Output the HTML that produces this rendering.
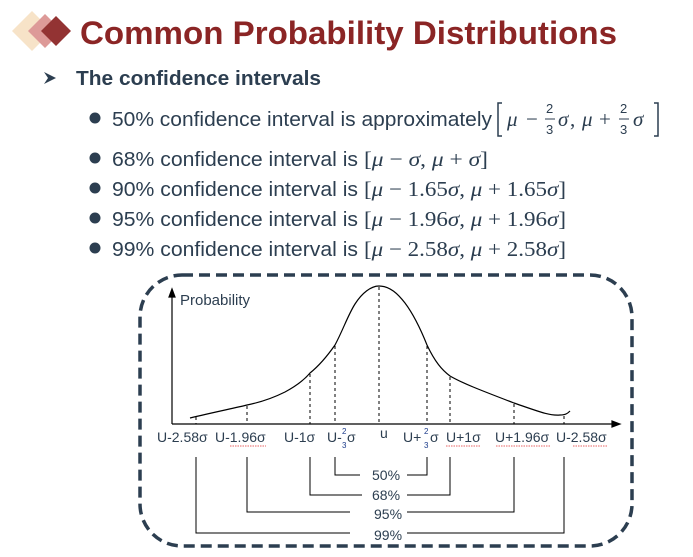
<!DOCTYPE html>
<html><head><meta charset="utf-8"><style>
html,body{margin:0;padding:0;background:#fff;width:693px;height:557px;overflow:hidden}
svg{display:block}
</style></head><body>
<svg width="693" height="557" viewBox="0 0 693 557" xmlns="http://www.w3.org/2000/svg" font-family="'Liberation Sans', 'DejaVu Sans', sans-serif">
<polygon points="32,11 52,31 32,51 12,31" fill="#f7e3c8"/>
<polygon points="45,14 62,31 45,48 28,31" fill="#dd9a98"/>
<polygon points="56,16 71,31 56,46 41,31" fill="#933333"/>
<text x="80" y="44" font-size="32" font-weight="bold" fill="#8b2525" textLength="537" lengthAdjust="spacingAndGlyphs">Common Probability Distributions</text>
<polygon points="44,72 56,78 44,84 48,78" fill="#2c3e50"/>
<text x="76" y="85" font-size="20" font-weight="bold" fill="#2c3e50" textLength="245" lengthAdjust="spacingAndGlyphs">The confidence intervals</text>
<g fill="#2c3e50" font-size="20">
<circle cx="95" cy="118" r="5.5"/><circle cx="95" cy="158" r="5.5"/><circle cx="95" cy="188" r="5.5"/><circle cx="95" cy="218" r="5.5"/><circle cx="95" cy="248" r="5.5"/>
<text x="112" y="126" textLength="380" lengthAdjust="spacingAndGlyphs">50% confidence interval is approximately</text>
<text x="112" y="166" textLength="246" lengthAdjust="spacingAndGlyphs">68% confidence interval is</text>
<text x="112" y="196" textLength="246" lengthAdjust="spacingAndGlyphs">90% confidence interval is</text>
<text x="112" y="226" textLength="246" lengthAdjust="spacingAndGlyphs">95% confidence interval is</text>
<text x="112" y="256" textLength="246" lengthAdjust="spacingAndGlyphs">99% confidence interval is</text>
</g>
<g fill="#2c3e50" font-family="'Liberation Serif', 'DejaVu Serif', serif" font-size="21">
<path d="M502,103 h-4 v33 h4 M654,103 h4 v33 h-4" stroke="#2c3e50" stroke-width="1.5" fill="none"/>
<text x="507" y="126" font-style="italic">μ</text>
<text x="526" y="126">−</text>
<text x="546" y="113" font-size="13" font-family="'Liberation Sans', sans-serif">2</text><text x="546" y="134" font-size="13" font-family="'Liberation Sans', sans-serif">3</text>
<line x1="545" y1="119" x2="555" y2="119" stroke="#2c3e50"/>
<text x="558" y="126" font-style="italic">σ</text><text x="570" y="126">,</text>
<text x="582" y="126" font-style="italic">μ</text>
<text x="599" y="126">+</text>
<text x="620" y="113" font-size="13" font-family="'Liberation Sans', sans-serif">2</text><text x="620" y="134" font-size="13" font-family="'Liberation Sans', sans-serif">3</text>
<line x1="619" y1="119" x2="629" y2="119" stroke="#2c3e50"/>
<text x="633" y="126" font-style="italic">σ</text>
<text x="364" y="166" textLength="124" lengthAdjust="spacingAndGlyphs">[<tspan font-style="italic">μ</tspan> − <tspan font-style="italic">σ</tspan>, <tspan font-style="italic">μ</tspan> + <tspan font-style="italic">σ</tspan>]</text>
<text x="364" y="196" textLength="202" lengthAdjust="spacingAndGlyphs">[<tspan font-style="italic">μ</tspan> − 1.65<tspan font-style="italic">σ</tspan>, <tspan font-style="italic">μ</tspan> + 1.65<tspan font-style="italic">σ</tspan>]</text>
<text x="364" y="226" textLength="202" lengthAdjust="spacingAndGlyphs">[<tspan font-style="italic">μ</tspan> − 1.96<tspan font-style="italic">σ</tspan>, <tspan font-style="italic">μ</tspan> + 1.96<tspan font-style="italic">σ</tspan>]</text>
<text x="364" y="256" textLength="202" lengthAdjust="spacingAndGlyphs">[<tspan font-style="italic">μ</tspan> − 2.58<tspan font-style="italic">σ</tspan>, <tspan font-style="italic">μ</tspan> + 2.58<tspan font-style="italic">σ</tspan>]</text>
</g>
<rect x="140" y="275" width="492" height="271" rx="42" fill="none" stroke="#2c3e50" stroke-width="3.5" stroke-dasharray="11,6"/>
<g stroke="#000" fill="none" stroke-width="1.2">
<line x1="172" y1="424" x2="172" y2="294"/>
<polygon points="172,289 169,297 175,297" fill="#000"/>
<line x1="172" y1="424" x2="614" y2="424"/>
<polygon points="620,424 612,421 612,427" fill="#000"/>
<path d="M190,418 C215,412 235,408 247,405 C262,402 273,398 285,392 C298,385 305,379 310,373 C320,365 328,355 335,345 C343,330 348,315 355,304 C362,293 371,286 379,286 C390,286 398,294 405,303 C414,315 421,330 427,345 C435,362 442,370 450,376 C462,383 480,390 514,403 C540,412 550,416 560,415 C566,415 568,413 570,411"/>
<g stroke-dasharray="3,3" stroke-width="1">
<line x1="247" y1="406" x2="247" y2="424"/><line x1="310" y1="374" x2="310" y2="424"/><line x1="335" y1="346" x2="335" y2="424"/><line x1="379" y1="287" x2="379" y2="424"/><line x1="427" y1="346" x2="427" y2="424"/><line x1="450" y1="377" x2="450" y2="424"/><line x1="514" y1="404" x2="514" y2="424"/><line x1="564" y1="416" x2="564" y2="424"/><line x1="196" y1="417" x2="196" y2="424"/>
</g>
<g stroke-width="1">
<path d="M335,457 V475 H360 M407,475 H427 V457"/>
<path d="M310,457 V495 H362 M407,495 H450 V457"/>
<path d="M247,457 V512 H350 M407,512 H514 V457"/>
<path d="M196,457 V533 H350 M407,533 H564 V457"/>
</g>
</g>
<g fill="#2c3e50" font-size="14">
<text x="180" y="305" font-size="15">Probability</text>
<text x="157" y="442">U-2.58σ</text>
<text x="215" y="442">U-1.96σ</text>
<text x="284" y="442">U-1σ</text>
<text x="327" y="442">U-</text><text x="342" y="434" font-size="8" fill="#1a3a8a">2</text><text x="342" y="448" font-size="8" fill="#1a3a8a">3</text><text x="347" y="442">σ</text>
<text x="380" y="438">u</text>
<text x="403" y="442">U+</text><text x="424" y="434" font-size="8" fill="#1a3a8a">2</text><text x="424" y="448" font-size="8" fill="#1a3a8a">3</text><text x="430" y="442">σ</text>
<text x="446" y="442">U+1σ</text>
<text x="495" y="442">U+1.96σ</text>
<text x="556" y="442">U-2.58σ</text>
<text x="372" y="480">50%</text>
<text x="372" y="500">68%</text>
<text x="374" y="519">95%</text>
<text x="374" y="540">99%</text>
</g>
<g stroke="#e03030" stroke-width="0.8" fill="none" stroke-dasharray="1.5,1">
<line x1="230" y1="446" x2="266" y2="446"/><line x1="446" y1="446" x2="481" y2="446"/><line x1="496" y1="446" x2="550" y2="446"/><line x1="573" y1="446" x2="607" y2="446"/>
</g>
</svg>
</body></html>
